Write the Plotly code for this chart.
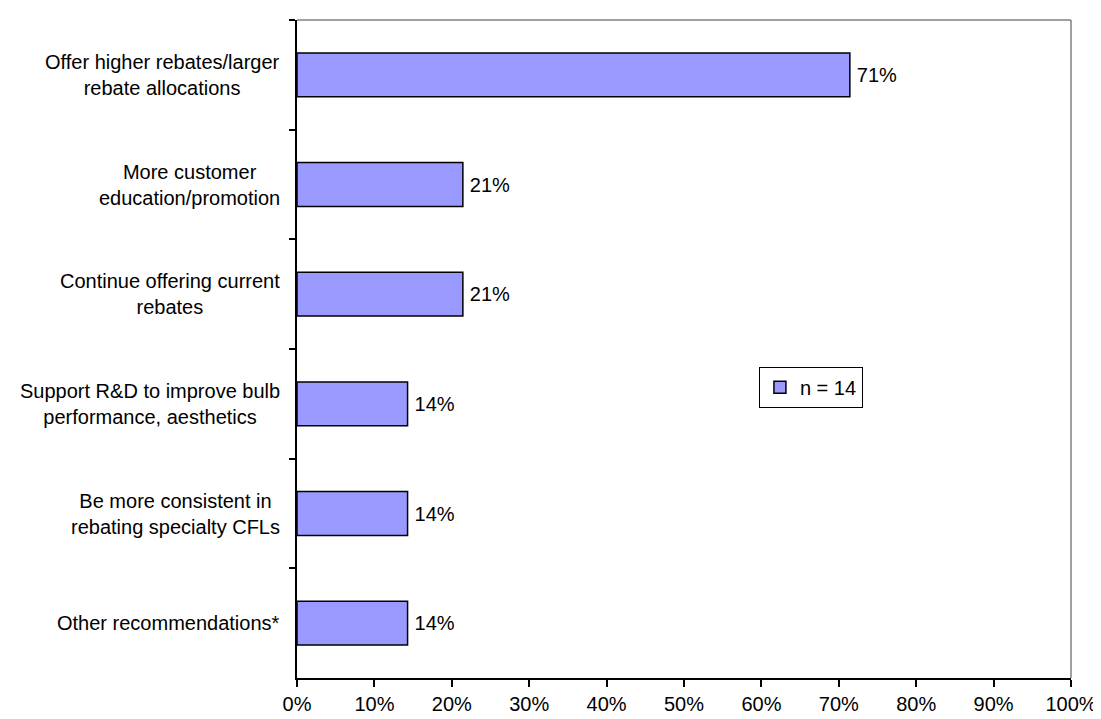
import plotly.graph_objects as go

categories = [
    "Offer higher rebates/larger<br>rebate allocations",
    "More customer<br>education/promotion",
    "Continue offering current<br>rebates",
    "Support R&D to improve bulb<br>performance, aesthetics",
    "Be more consistent in<br>rebating specialty CFLs",
    "Other recommendations*",
]
values = [10/14, 3/14, 3/14, 2/14, 2/14, 2/14]
value_labels = ["71%", "21%", "21%", "14%", "14%", "14%"]
series_name = "n = 14"
x_ticks = [i / 10 for i in range(11)]
x_tick_labels = [f"{i*10}%" for i in range(11)]

FONT = "Arial, Liberation Sans, sans-serif"
FS = 20

fig = go.Figure()
fig.add_trace(go.Bar(
    y=categories,
    x=values,
    orientation="h",
    name=series_name,
    text=["\u2009" + t for t in value_labels],
    textposition="outside",
    textfont=dict(family=FONT, size=FS, color="black"),
    cliponaxis=False,
    marker=dict(color="#9999FF", line=dict(color="black", width=1.5)),
    showlegend=True,
))

for cat in categories:
    fig.add_annotation(
        x=0, xref="paper", y=cat, yref="y",
        text=cat, showarrow=False, xanchor="right", yanchor="middle",
        align="center", xshift=-15,
        font=dict(family=FONT, size=FS, color="black"),
    )

# gray top/right frame
fig.add_shape(type="line", xref="paper", yref="paper", x0=0, x1=1, y0=1, y1=1,
              line=dict(color="#808080", width=1.5))
fig.add_shape(type="line", xref="paper", yref="paper", x0=1, x1=1, y0=0, y1=1,
              line=dict(color="#808080", width=1.5))

fig.update_layout(
    width=1101, height=719,
    margin=dict(l=289, r=25, t=12, b=39),
    paper_bgcolor="white", plot_bgcolor="white",
    font=dict(family=FONT, size=FS, color="black"),
    bargap=0.6,
    legend=dict(
        x=0.664, y=0.442, xanchor="center", yanchor="middle",
        bordercolor="black", borderwidth=1, bgcolor="white",
        font=dict(family=FONT, size=FS, color="black"),
        itemwidth=30,
    ),
    xaxis=dict(
        range=[0, 1], tickvals=x_ticks, ticktext=x_tick_labels,
        showgrid=False, zeroline=False,
        showline=True, linecolor="black", linewidth=1.5,
        ticks="outside", ticklen=7, tickcolor="black", tickwidth=1.5,
        tickfont=dict(family=FONT, size=FS, color="black"),
        ticklabeloverflow="allow",
        fixedrange=True,
    ),
    yaxis=dict(
        categoryorder="array", categoryarray=categories,
        autorange="reversed",
        showticklabels=False,
        showgrid=False, zeroline=False,
        showline=True, linecolor="black", linewidth=1.5,
        ticks="outside", ticklen=6, tickcolor="black", tickwidth=1.5,
        tickson="boundaries",
        fixedrange=True,
    ),
)

fig.write_html("out.html")
